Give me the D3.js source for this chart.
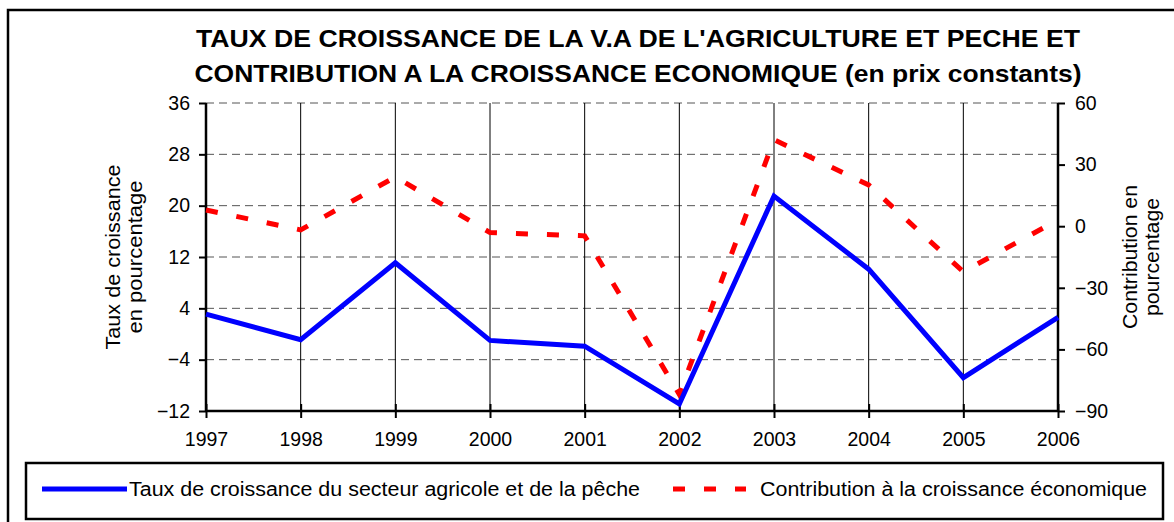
<!DOCTYPE html>
<html>
<head>
<meta charset="utf-8">
<script src="https://cdn.jsdelivr.net/npm/d3@7"></script>
<style>
  body { margin: 0; background: #fff; }
  text { font-family: "Liberation Sans", Arial, sans-serif; fill: #000; }
</style>
</head>
<body>
<div id="chart"></div>
<script>
// Data
var years = [1997, 1998, 1999, 2000, 2001, 2002, 2003, 2004, 2005, 2006];
var tauxCroissance = [3.1, -0.9, 11.1, -1.0, -1.9, -10.9, 21.5, 10.1, -6.8, 2.6];
var contribution = [7.9, -1.8, 24.0, -3.1, -4.7, -81.9, 42.1, 20.1, -22.2, 3.1];
var leftTicks = [-12, -4, 4, 12, 20, 28, 36];
var rightTicks = [-90, -60, -30, 0, 30, 60];
var titleLines = ["TAUX DE CROISSANCE DE LA V.A DE L'AGRICULTURE ET PECHE ET",
                  "CONTRIBUTION A LA CROISSANCE ECONOMIQUE (en prix constants)"];
var seriesNames = ["Taux de croissance du secteur agricole et de la pêche",
                   "Contribution à la croissance économique"];

var svgWidth = 1174;
var svgHeight = 522;

var margin = { top: 103, right: 116, bottom: 111, left: 206 };
var width = svgWidth - margin.left - margin.right;
var height = svgHeight - margin.top - margin.bottom;

var svg = d3.select("#chart")
  .append("svg")
  .attr("width", svgWidth)
  .attr("height", svgHeight);

// outer frame (runs off the right and bottom edges)
svg.append("rect")
  .attr("x", 8).attr("y", 10)
  .attr("width", 1200).attr("height", 560)
  .attr("fill", "none")
  .attr("stroke", "#000")
  .attr("stroke-width", 2.5);

// title
svg.append("g").selectAll("text")
  .data(titleLines)
  .enter()
  .append("text")
  .attr("x", 638)
  .attr("y", (d, i) => 47 + i * 35)
  .attr("text-anchor", "middle")
  .attr("textLength", (d, i) => i == 0 ? 884 : 887)
  .attr("lengthAdjust", "spacingAndGlyphs")
  .style("font-size", "24.5px")
  .style("font-weight", "bold")
  .text(d => d);

var chartGroup = svg.append("g")
  .attr("transform", `translate(${margin.left}, ${margin.top})`);

// scales
var xScale = d3.scalePoint()
  .domain(years)
  .range([0, width]);

var yLeft = d3.scaleLinear()
  .domain([-12, 36])
  .range([height, 0]);

var yRight = d3.scaleLinear()
  .domain([-90, 60])
  .range([height, 0]);

// horizontal dashed grid
chartGroup.append("g")
  .selectAll("line")
  .data(leftTicks.filter(d => d > -12))
  .enter()
  .append("line")
  .attr("x1", 0).attr("x2", width)
  .attr("y1", d => yLeft(d)).attr("y2", d => yLeft(d))
  .attr("stroke", "#555")
  .attr("stroke-width", 1)
  .attr("stroke-dasharray", "8,5");

// vertical grid
chartGroup.append("g")
  .selectAll("line")
  .data(years.slice(1, -1))
  .enter()
  .append("line")
  .attr("x1", d => xScale(d)).attr("x2", d => xScale(d))
  .attr("y1", 0).attr("y2", height)
  .attr("stroke", "#000")
  .attr("stroke-width", 1);

// axes
var leftAxis = d3.axisLeft(yLeft).tickValues(leftTicks).tickSize(7).tickPadding(9);
var rightAxis = d3.axisRight(yRight).tickValues(rightTicks).tickSize(7).tickPadding(10);
var bottomAxis = d3.axisBottom(xScale).tickSize(7).tickPadding(14);

function styleAxis(g) {
  g.select(".domain").attr("stroke", "#000").attr("stroke-width", 2.5);
  g.selectAll(".tick line").attr("stroke", "#000").attr("stroke-width", 2);
  g.selectAll(".tick text")
    .style("font-size", "19.5px")
    .style("font-family", "Liberation Sans, Arial, sans-serif");
}

chartGroup.append("g")
  .call(leftAxis)
  .call(styleAxis)
  .call(g => g.select(".domain").attr("d", `M0,0V${height}`));

chartGroup.append("g")
  .attr("transform", `translate(${width}, 0)`)
  .call(rightAxis)
  .call(styleAxis)
  .call(g => g.select(".domain").attr("d", `M0,0V${height}`));

chartGroup.append("g")
  .attr("transform", `translate(0, ${height})`)
  .call(bottomAxis)
  .call(styleAxis)
  .call(g => g.select(".domain").attr("d", `M0,0H${width}`))
  .call(g => g.selectAll(".tick line").attr("y1", -7).attr("y2", 7));

// axis titles
var leftTitle = svg.append("text")
  .attr("transform", `translate(120, ${margin.top + height / 2}) rotate(-90)`)
  .attr("text-anchor", "middle")
  .style("font-size", "19.5px");
leftTitle.append("tspan").attr("x", 0).attr("dy", 0)
  .attr("textLength", 185).attr("lengthAdjust", "spacingAndGlyphs")
  .text("Taux de croissance");
leftTitle.append("tspan").attr("x", 0).attr("dy", 22)
  .attr("textLength", 153).attr("lengthAdjust", "spacingAndGlyphs")
  .text("en pourcentage");

var rightTitle = svg.append("text")
  .attr("transform", `translate(1137, ${margin.top + height / 2}) rotate(-90)`)
  .attr("text-anchor", "middle")
  .style("font-size", "19.5px");
rightTitle.append("tspan").attr("x", 0).attr("dy", 0)
  .attr("textLength", 144).attr("lengthAdjust", "spacingAndGlyphs")
  .text("Contribution en");
rightTitle.append("tspan").attr("x", 0).attr("dy", 22)
  .attr("textLength", 118).attr("lengthAdjust", "spacingAndGlyphs")
  .text("pourcentage");

// lines
var lineLeft = d3.line()
  .x((d, i) => xScale(years[i]))
  .y(d => yLeft(d));

var lineRight = d3.line()
  .x((d, i) => xScale(years[i]))
  .y(d => yRight(d));

chartGroup.append("path")
  .datum(contribution)
  .attr("d", lineRight)
  .attr("fill", "none")
  .attr("stroke", "#ff0000")
  .attr("stroke-width", 5)
  .attr("stroke-dasharray", "12,19");

chartGroup.append("path")
  .datum(tauxCroissance)
  .attr("d", lineLeft)
  .attr("fill", "none")
  .attr("stroke", "#0000ff")
  .attr("stroke-width", 5)
  .attr("stroke-linejoin", "miter");

// legend
var legend = svg.append("g");

legend.append("rect")
  .attr("x", 26).attr("y", 463)
  .attr("width", 1137).attr("height", 56)
  .attr("fill", "#fff")
  .attr("stroke", "#000")
  .attr("stroke-width", 2.5);

legend.append("line")
  .attr("x1", 42).attr("x2", 127)
  .attr("y1", 489).attr("y2", 489)
  .attr("stroke", "#0000ff")
  .attr("stroke-width", 5);

legend.append("text")
  .attr("x", 129).attr("y", 496)
  .attr("textLength", 511).attr("lengthAdjust", "spacingAndGlyphs")
  .style("font-size", "19.5px")
  .text(seriesNames[0]);

legend.append("line")
  .attr("x1", 673).attr("x2", 746)
  .attr("y1", 489).attr("y2", 489)
  .attr("stroke", "#ff0000")
  .attr("stroke-width", 5)
  .attr("stroke-dasharray", "12,19");

legend.append("text")
  .attr("x", 760).attr("y", 496)
  .attr("textLength", 387).attr("lengthAdjust", "spacingAndGlyphs")
  .style("font-size", "19.5px")
  .text(seriesNames[1]);
</script>
</body>
</html>
